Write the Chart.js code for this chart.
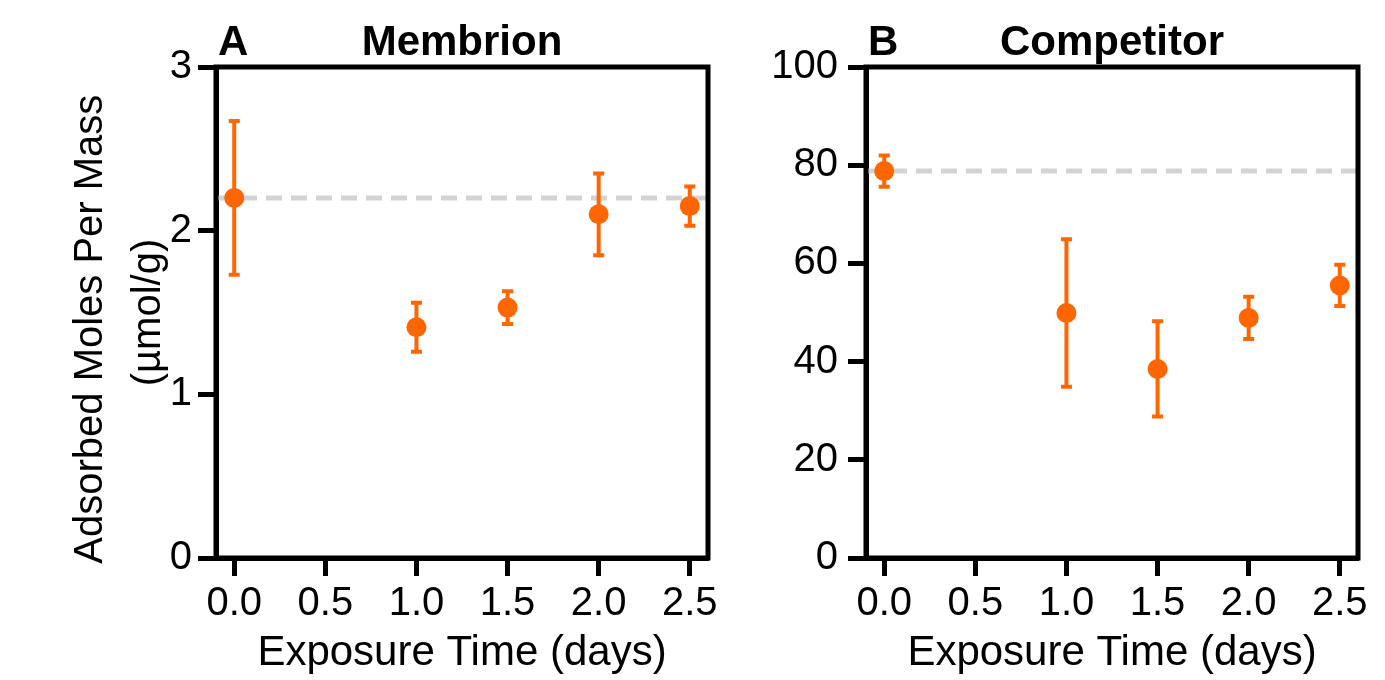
<!DOCTYPE html>
<html>
<head>
<meta charset="utf-8">
<script src="https://cdn.jsdelivr.net/npm/chart.js@4.4.1/dist/chart.umd.min.js"></script>
<style>
  html, body { margin: 0; padding: 0; background: #fff; }
  #wrap { position: relative; width: 1385px; height: 680px; }
  #wrap canvas { position: absolute; left: 0; top: 0; }
</style>
</head>
<body>
<div id="wrap">
  <canvas id="chart-a" width="1385" height="680"></canvas>
  <canvas id="chart-b" width="1385" height="680"></canvas>
</div>
<script>
// exposure times (days)
const times = [0, 1.0, 1.5, 2.0, 2.5];

// panel A - Membrion (µmol/g)
const membrionMean = [2.20, 1.41, 1.53, 2.10, 2.15];
const membrionErr  = [0.47, 0.15, 0.10, 0.25, 0.12];

// panel B - Competitor (µmol/g)
const competitorMean = [78.8, 49.9, 38.5, 48.9, 55.5];
const competitorErr  = [3.2, 15.0, 9.7, 4.3, 4.2];

const ORANGE = '#ff6600';
const FONT = '"Liberation Sans", Arial, Helvetica, sans-serif';

// error bars + dashed baseline (value at day 0), drawn behind the markers
const errorBars = {
  id: 'errorBars',
  beforeDatasetsDraw(chart) {
    const { ctx, chartArea } = chart;
    const xs = chart.scales.x, ys = chart.scales.y;
    const ds = chart.data.datasets[0];

    // baseline
    const yb = ys.getPixelForValue(ds.data[0].y);
    ctx.save();
    ctx.strokeStyle = '#d3d3d3';
    ctx.lineWidth = 5;
    ctx.setLineDash([16, 9]);
    ctx.beginPath();
    ctx.moveTo(chartArea.left, yb);
    ctx.lineTo(chartArea.right, yb);
    ctx.stroke();
    ctx.restore();

    ctx.save();
    ctx.strokeStyle = ORANGE;
    ctx.lineWidth = 4;
    ds.data.forEach((p, i) => {
      const e = ds.errors[i];
      const px = xs.getPixelForValue(p.x);
      const top = ys.getPixelForValue(p.y + e);
      const bot = ys.getPixelForValue(p.y - e);
      ctx.beginPath();
      ctx.moveTo(px, top); ctx.lineTo(px, bot);
      ctx.moveTo(px - 5.5, top); ctx.lineTo(px + 5.5, top);
      ctx.moveTo(px - 5.5, bot); ctx.lineTo(px + 5.5, bot);
      ctx.stroke();
    });
    ctx.restore();
  }
};

// full box frame, panel letter and title
const frame = {
  id: 'frame',
  afterDraw(chart, args, opts) {
    const { ctx, chartArea: a } = chart;
    ctx.save();
    ctx.strokeStyle = '#000';
    ctx.lineWidth = 5;
    ctx.strokeRect(a.left, a.top, a.right - a.left, a.bottom - a.top);
    ctx.fillStyle = '#000';
    ctx.font = 'bold 42px ' + FONT;
    ctx.textBaseline = 'alphabetic';
    ctx.textAlign = 'left';
    ctx.fillText(opts.letter, a.left + 2, a.top - 12);
    ctx.textAlign = 'center';
    ctx.fillText(opts.title, (a.left + a.right) / 2, a.top - 12);
    ctx.restore();
  }
};

function makePanel(id, mean, err, yMax, yStep, padLeft, yWidth, yPad, letter, title, yTitle) {
  new Chart(document.getElementById(id), {
    type: 'scatter',
    data: {
      datasets: [{
        data: times.map((t, i) => ({ x: t, y: mean[i] })),
        errors: err,
        backgroundColor: ORANGE,
        borderWidth: 0,
        pointRadius: 10,
        pointHoverRadius: 10
      }]
    },
    options: {
      responsive: false,
      animation: false,
      devicePixelRatio: 1,
      layout: { padding: { left: padLeft, right: 1385 - padLeft - yWidth - 492, top: 67, bottom: 0 } },
      plugins: {
        legend: { display: false },
        tooltip: { enabled: false },
        frame: { letter, title }
      },
      scales: {
        x: {
          type: 'linear',
          min: -0.1, max: 2.6,
          afterFit: s => { s.height = 122; },
          ticks: {
            stepSize: 0.5, includeBounds: false,
            color: '#000', padding: 4,
            font: { family: FONT, size: 40 },
            callback: v => v.toFixed(1),
            maxRotation: 0
          },
          grid: { drawOnChartArea: false, drawTicks: true, tickLength: 18, tickWidth: 5, tickColor: '#000' },
          border: { display: true, color: '#000', width: 5 },
          title: {
            display: true, text: 'Exposure Time (days)', color: '#000',
            font: { family: FONT, size: 42, lineHeight: 1.2 },
            padding: { top: 0, bottom: 1 }
          }
        },
        y: {
          min: 0, max: yMax,
          afterFit: s => { s.width = yWidth; },
          ticks: {
            stepSize: yStep, color: '#000', padding: yPad,
            font: { family: FONT, size: 40 }
          },
          grid: { drawOnChartArea: false, drawTicks: true, tickLength: 18, tickWidth: 5, tickColor: '#000' },
          border: { display: true, color: '#000', width: 5 },
          title: {
            display: !!yTitle, text: yTitle || '', color: '#000',
            font: { family: FONT, size: 40, lineHeight: 1.45 },
            padding: { top: 62, bottom: 0 }
          }
        }
      }
    },
    plugins: [errorBars, frame]
  });
}

makePanel('chart-a', membrionMean, membrionErr, 3, 1, 0, 216, 6, 'A', 'Membrion',
  ['Adsorbed Moles Per Mass   ', '(µmol/g)']);
makePanel('chart-b', competitorMean, competitorErr, 100, 20, 738, 128, 10, 'B', 'Competitor', null);
</script>
</body>
</html>
